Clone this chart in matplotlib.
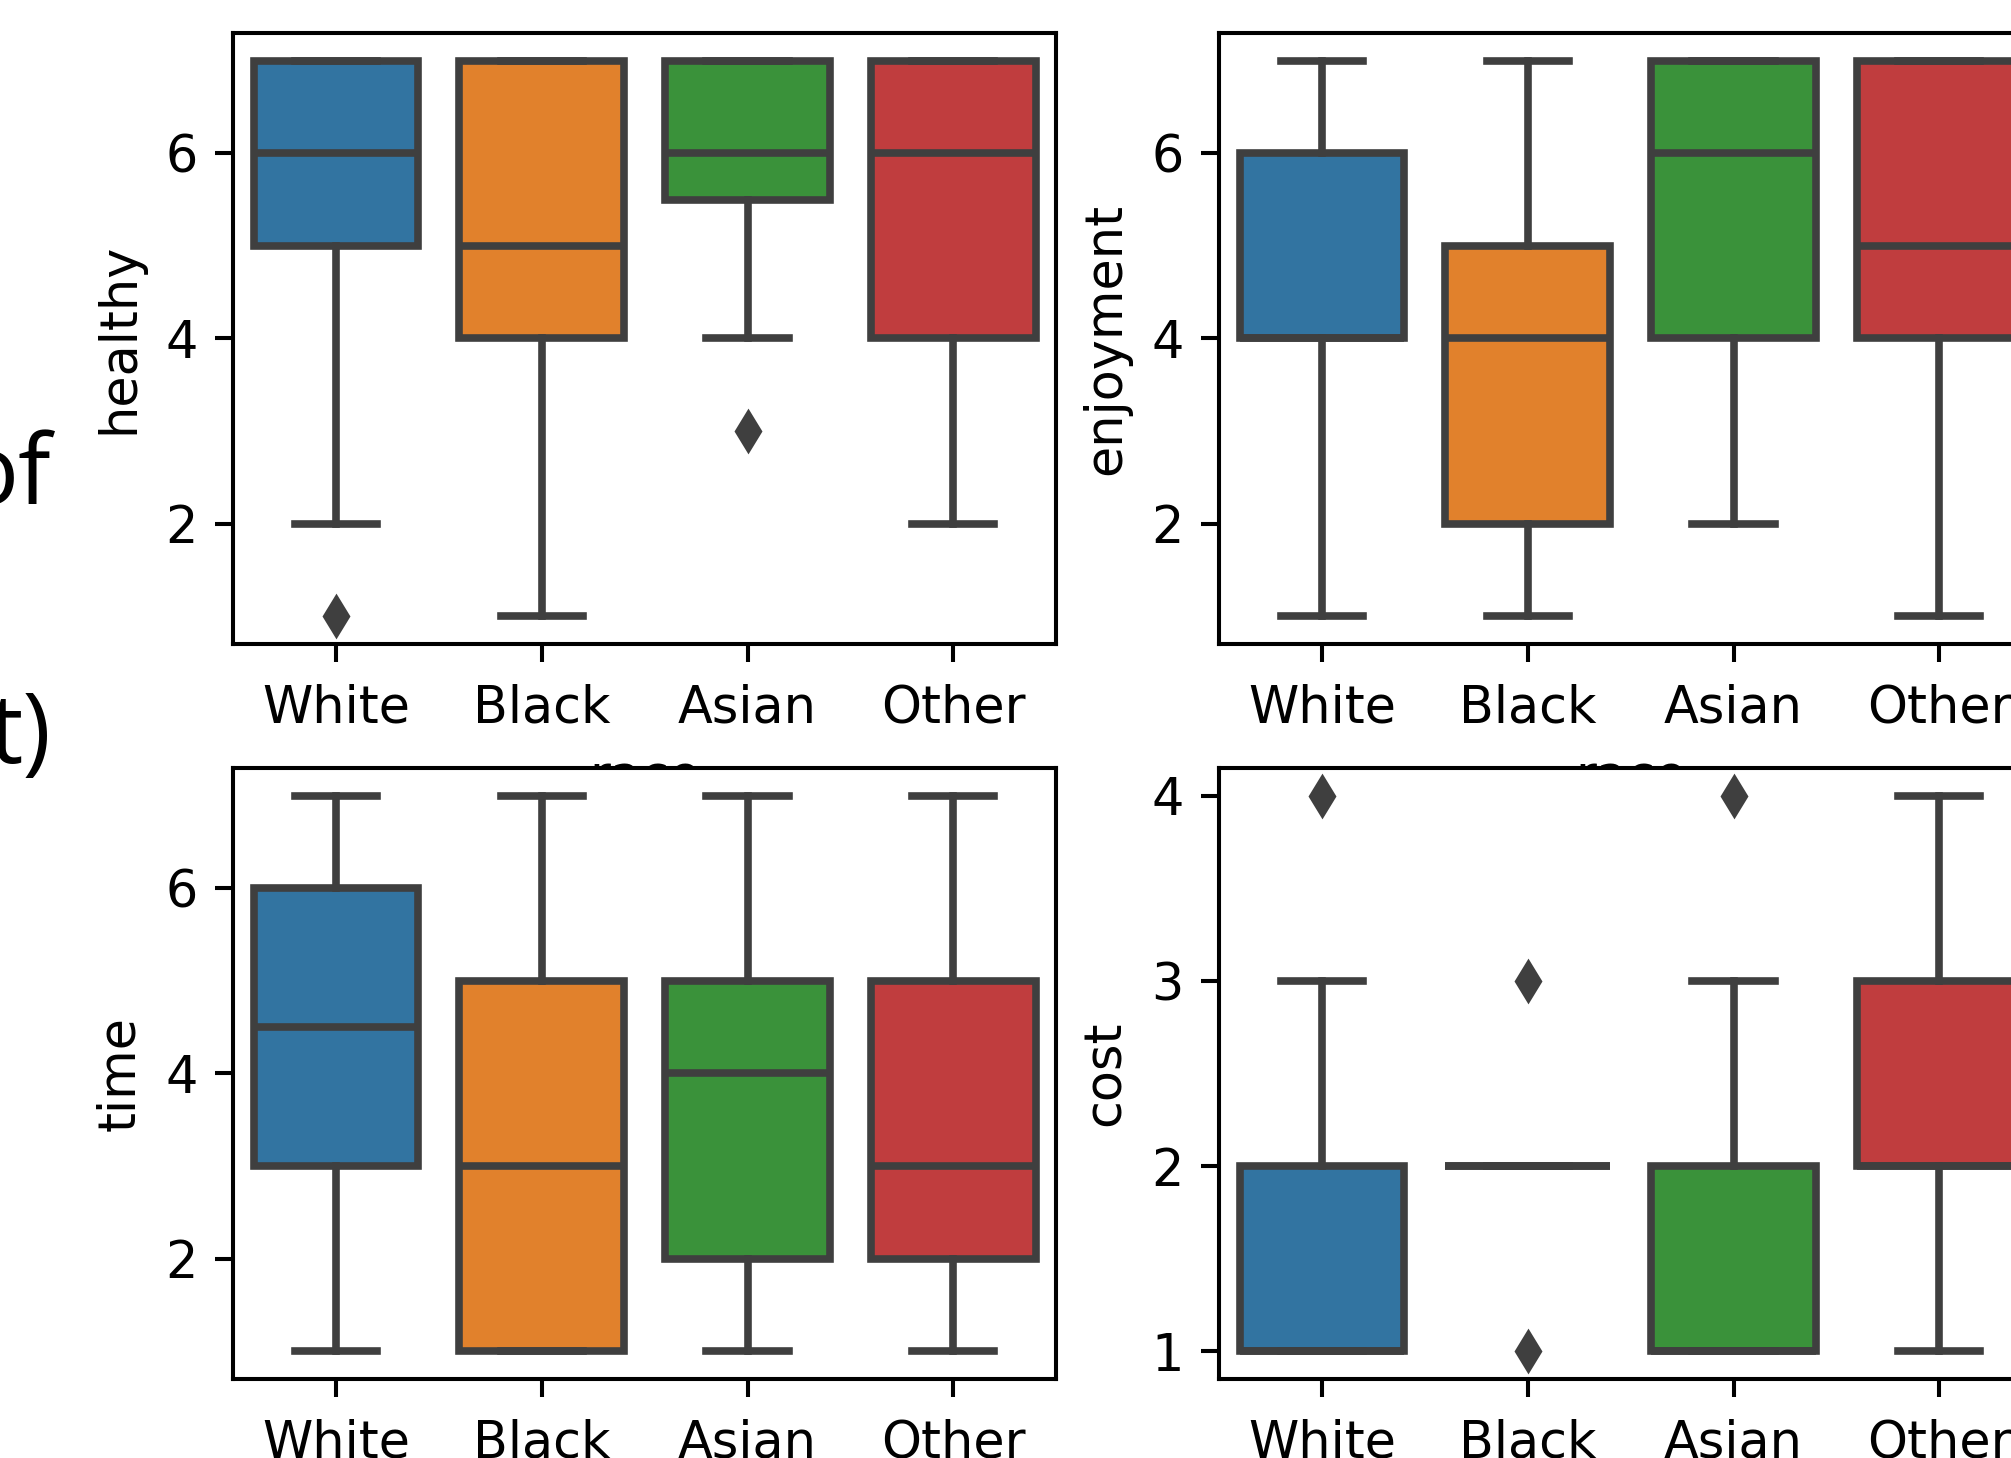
import matplotlib.pyplot as plt

races = ["White", "Black", "Asian", "Other"]
colors = ["#3274a1", "#e1812c", "#3a923a", "#c03d3e"]
line_gray = "#3f3f3f"

# box statistics (one value per race)
healthy_q1 = [5, 4, 5.5, 4]
healthy_med = [6, 5, 6, 6]
healthy_q3 = [7, 7, 7, 7]
healthy_lo = [2, 1, 4, 2]
healthy_hi = [7, 7, 7, 7]
healthy_fliers = [[1], [], [3], []]

enjoyment_q1 = [4, 2, 4, 4]
enjoyment_med = [4, 4, 6, 5]
enjoyment_q3 = [6, 5, 7, 7]
enjoyment_lo = [1, 1, 2, 1]
enjoyment_hi = [7, 7, 7, 7]
enjoyment_fliers = [[], [], [], []]

time_q1 = [3, 1, 2, 2]
time_med = [4.5, 3, 4, 3]
time_q3 = [6, 5, 5, 5]
time_lo = [1, 1, 1, 1]
time_hi = [7, 7, 7, 7]
time_fliers = [[], [], [], []]

cost_q1 = [1, 2, 1, 2]
cost_med = [1, 2, 1, 2]
cost_q3 = [2, 2, 2, 3]
cost_lo = [1, 2, 1, 1]
cost_hi = [3, 2, 3, 4]
cost_fliers = [[4], [1, 3], [4], []]

panels = [
    ("healthy", healthy_q1, healthy_med, healthy_q3, healthy_lo, healthy_hi, healthy_fliers, [2, 4, 6]),
    ("enjoyment", enjoyment_q1, enjoyment_med, enjoyment_q3, enjoyment_lo, enjoyment_hi, enjoyment_fliers, [2, 4, 6]),
    ("time", time_q1, time_med, time_q3, time_lo, time_hi, time_fliers, [2, 4, 6]),
    ("cost", cost_q1, cost_med, cost_q3, cost_lo, cost_hi, cost_fliers, [1, 2, 3, 4]),
]

dpi = 366
fig = plt.figure(figsize=(2011 / dpi, 1458 / dpi), dpi=dpi)

lefts = [0.1159, 0.6062]
bottoms = [0.5583, 0.0542]
w, h = 0.4093, 0.4191

for i, (name, q1, med, q3, lo, hi, fl, yt) in enumerate(panels):
    ax = fig.add_axes([lefts[i % 2], bottoms[i // 2], w, h])
    stats = []
    for j in range(len(races)):
        stats.append({"q1": q1[j], "med": med[j], "q3": q3[j],
                      "whislo": lo[j], "whishi": hi[j], "fliers": fl[j]})
    bp = ax.bxp(stats, positions=range(len(races)), widths=0.8, capwidths=0.4,
                patch_artist=True,
                boxprops=dict(edgecolor=line_gray, linewidth=1.5),
                whiskerprops=dict(color=line_gray, linewidth=1.5),
                capprops=dict(color=line_gray, linewidth=1.5),
                medianprops=dict(color=line_gray, linewidth=1.5),
                flierprops=dict(marker="d", markerfacecolor=line_gray,
                                markeredgecolor=line_gray, markersize=5))
    for patch, c in zip(bp["boxes"], colors):
        patch.set_facecolor(c)
    ax.set_xlim(-0.5, 3.5)
    ax.set_xticks(range(len(races)))
    ax.set_xticklabels(races)
    ax.tick_params(axis="x", pad=4.3)
    ax.set_yticks(yt)
    ax.set_ylabel(name)
    ax.set_xlabel("race")

# fragments of slide text at the left edge
fig.text(51 / 2011, 0.654, "of", ha="right", va="baseline",
         fontsize=19, family="Open Sans")
fig.text(51 / 2011, 0.477, "t)", ha="right", va="baseline",
         fontsize=19, family="Open Sans")

fig.savefig("out.png", dpi=dpi)
